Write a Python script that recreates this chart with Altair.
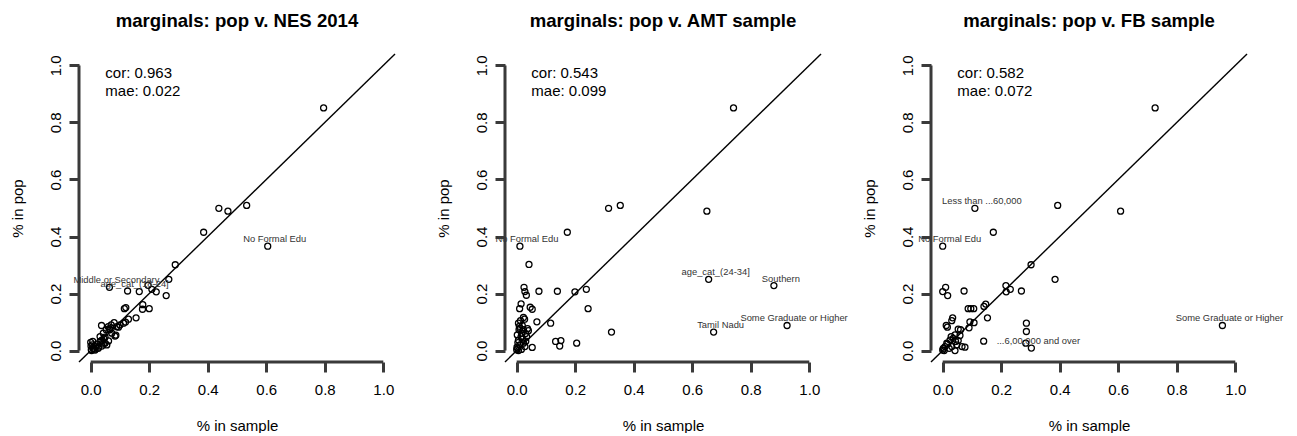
import altair as alt
import pandas as pd

FONT = "Liberation Sans"

TITLES = ["marginals: pop v. NES 2014", "marginals: pop v. AMT sample", "marginals: pop v. FB sample"]
COR = ["0.963", "0.543", "0.582"]
MAE = ["0.022", "0.099", "0.072"]

TICKS = [0.0, 0.2, 0.4, 0.6, 0.8, 1.0]
DOMAIN = [-0.04, 1.04]

# ---- NES 2014 ----
NES_SAMPLE = [0.796, 0.438, 0.469, 0.533, 0.386, 0.605, 0.289, 0.267, 0.064, 0.126,
              0.166, 0.196, 0.209, 0.224, 0.258, 0.115, 0.120, 0.178, 0.177, 0.200,
              0.155, 0.129, 0.119, 0.080, 0.037, 0.086, 0.095, 0.064, 0.053, 0.043,
              0.032, 0.061, 0.049, 0.072, 0.021, 0.007, 0.000, 0.001, 0.009, 0.003,
              0.015, 0.026, 0.038, 0.043, 0.032, 0.055, 0.018, 0.066, 0.060, 0.089,
              0.112, 0.038, 0.049, 0.012, 0.005, 0.027, 0.002, 0.070, 0.045, 0.100,
              0.083]
NES_POP = [0.851, 0.499, 0.489, 0.509, 0.415, 0.366, 0.301, 0.250, 0.222, 0.209,
           0.207, 0.229, 0.215, 0.206, 0.193, 0.147, 0.151, 0.161, 0.145, 0.147,
           0.115, 0.110, 0.100, 0.098, 0.088, 0.054, 0.082, 0.077, 0.073, 0.061,
           0.049, 0.034, 0.047, 0.061, 0.023, 0.032, 0.029, 0.016, 0.008, 0.000,
           0.002, 0.008, 0.016, 0.023, 0.032, 0.020, 0.014, 0.073, 0.084, 0.084,
           0.096, 0.037, 0.026, 0.005, 0.020, 0.012, 0.003, 0.090, 0.042, 0.090,
           0.051]
NES_LABELS = {5: "No Formal Edu", 8: "Middle or Secondary", 9: "age_cat_(18-24]"}

# ---- AMT sample ----
AMT_SAMPLE = [0.741, 0.314, 0.354, 0.650, 0.173, 0.011, 0.042, 0.656, 0.879, 0.924,
              0.673, 0.324, 0.025, 0.028, 0.033, 0.076, 0.139, 0.199, 0.238, 0.244,
              0.015, 0.010, 0.046, 0.053, 0.069, 0.116, 0.133, 0.151, 0.147, 0.205,
              0.053, 0.023, 0.027, 0.006, 0.011, 0.023, 0.037, 0.040, 0.034, 0.017,
              0.006, 0.011, 0.003, 0.023, 0.006, 0.028, 0.015, 0.008, 0.002, 0.004,
              0.001, 0.019, 0.013, 0.009, 0.030, 0.000, 0.016, 0.020, 0.031]
AMT_POP = [0.851, 0.499, 0.509, 0.489, 0.415, 0.366, 0.302, 0.250, 0.228, 0.088,
           0.065, 0.065, 0.222, 0.207, 0.194, 0.208, 0.208, 0.206, 0.215, 0.147,
           0.164, 0.147, 0.152, 0.145, 0.101, 0.096, 0.032, 0.035, 0.016, 0.026,
           0.011, 0.116, 0.110, 0.096, 0.078, 0.073, 0.077, 0.070, 0.049, 0.061,
           0.037, 0.020, 0.008, 0.026, 0.000, 0.014, 0.049, 0.073, 0.055, 0.028,
           0.012, 0.088, 0.105, 0.085, 0.060, 0.003, 0.004, 0.040, 0.033]
AMT_LABELS = {5: "No Formal Edu", 7: "age_cat_(24-34]", 8: "Southern",
              9: "Some Graduate or Higher", 10: "Tamil Nadu"}

# ---- FB sample ----
FB_SAMPLE = [0.726, 0.393, 0.608, 0.110, 0.173, 0.000, 0.302, 0.384, 0.956, 0.303,
             0.010, 0.000, 0.017, 0.073, 0.216, 0.217, 0.231, 0.269, 0.147, 0.141,
             0.087, 0.096, 0.106, 0.153, 0.034, 0.031, 0.093, 0.107, 0.012, 0.016,
             0.090, 0.286, 0.286, 0.284, 0.140, 0.066, 0.076, 0.042, 0.053, 0.061,
             0.059, 0.042, 0.036, 0.025, 0.014, 0.002, 0.000, 0.048, 0.031, 0.053,
             0.022, 0.044, 0.008, 0.017, 0.005, 0.029]
FB_POP = [0.851, 0.509, 0.489, 0.499, 0.415, 0.366, 0.301, 0.250, 0.088, 0.009,
          0.222, 0.207, 0.193, 0.209, 0.228, 0.206, 0.215, 0.209, 0.163, 0.155,
          0.147, 0.147, 0.147, 0.115, 0.115, 0.105, 0.101, 0.098, 0.088, 0.082,
          0.080, 0.096, 0.067, 0.026, 0.033, 0.014, 0.012, 0.000, 0.075, 0.073,
          0.053, 0.055, 0.043, 0.037, 0.026, 0.008, 0.002, 0.020, 0.014, 0.035,
          0.008, 0.032, 0.014, 0.023, 0.000, 0.049]
FB_LABELS = {3: "Less than ...60,000", 5: "No Formal Edu",
             8: "Some Graduate or Higher", 9: "...6,00,000 and over"}

STAT_X = 0.05
STAT_Y = [0.955, 0.894]

W, H = 316, 308
XT, YT = "% in sample", "% in pop"
LINE_KINDS = ["diag", "yaxis", "xaxis"]
AXIS_COLOR = "#3a3a3a"


def panel(title, xs, ys, labels, cor, mae):
    df = pd.DataFrame({
        "x": xs,
        "y": ys,
        "label": [labels.get(i, "") for i in range(len(xs))],
    })
    xscale = alt.Scale(domain=DOMAIN, nice=False, zero=False)
    yscale = alt.Scale(domain=DOMAIN, nice=False, zero=False)
    xaxis = alt.Axis(values=TICKS, format=".1f", domain=False, grid=False,
                     tickSize=10, tickColor=AXIS_COLOR, tickWidth=3,
                     labelFont=FONT, labelFontSize=15, labelColor="black",
                     labelPadding=22, labelBaseline="alphabetic",
                     title=XT, titleFont=FONT, titleFontSize=15,
                     titleFontWeight="normal", titleColor="black",
                     titlePadding=21)
    yaxis = alt.Axis(values=TICKS, format=".1f", domain=False, grid=False,
                     tickSize=10, tickColor=AXIS_COLOR, tickWidth=3,
                     labelFont=FONT, labelFontSize=15, labelColor="black",
                     labelAngle=270, labelAlign="center", labelBaseline="alphabetic",
                     labelPadding=9,
                     title=YT, titleFont=FONT, titleFontSize=15,
                     titleFontWeight="normal", titleColor="black",
                     titlePadding=23)

    pts = alt.Chart(df).mark_point(
        shape="circle", filled=False, color="black", size=36, strokeWidth=1.3, opacity=1
    ).encode(
        x=alt.X("x:Q", scale=xscale, axis=xaxis),
        y=alt.Y("y:Q", scale=yscale, axis=yaxis),
    )

    lines = pd.DataFrame({
        "x0": [DOMAIN[0], DOMAIN[0], TICKS[0]],
        "x1": [DOMAIN[1], DOMAIN[0], TICKS[-1]],
        "y0": [DOMAIN[0], TICKS[0], DOMAIN[0]],
        "y1": [DOMAIN[1], TICKS[-1], DOMAIN[0]],
        "c": LINE_KINDS,
        "w": [1.4, 3.0, 3.0],
    })
    rules = alt.Chart(lines).mark_rule().encode(
        x="x0:Q", x2="x1:Q", y="y0:Q", y2="y1:Q",
        color=alt.Color("c:N", scale=alt.Scale(domain=LINE_KINDS,
                                               range=["#000000", AXIS_COLOR, AXIS_COLOR]),
                        legend=None),
        strokeWidth=alt.StrokeWidth("w:Q", scale=None, legend=None),
    )

    lab = alt.Chart(df).transform_filter("datum.label != ''").mark_text(
        font=FONT, fontSize=9.4, color="#333333", dx=7, dy=-7,
        align="center", baseline="middle"
    ).encode(x="x:Q", y="y:Q", text="label:N")

    stats = pd.DataFrame({"t": [f"cor: {cor}", f"mae: {mae}"], "y": STAT_Y, "x": [STAT_X, STAT_X]})
    st = alt.Chart(stats).mark_text(
        font=FONT, fontSize=15, color="black", align="left", baseline="alphabetic"
    ).encode(x="x:Q", y="y:Q", text="t:N")

    return alt.layer(pts, rules, lab, st).properties(
        width=W, height=H,
        title=alt.TitleParams(text=title, font=FONT, fontSize=18.6, fontWeight="bold",
                              color="black", anchor="middle", offset=23),
    )


p1 = panel(TITLES[0], NES_SAMPLE, NES_POP, NES_LABELS, COR[0], MAE[0])
p2 = panel(TITLES[1], AMT_SAMPLE, AMT_POP, AMT_LABELS, COR[1], MAE[1])
p3 = panel(TITLES[2], FB_SAMPLE, FB_POP, FB_LABELS, COR[2], MAE[2])

chart = alt.hconcat(p1, p2, p3, spacing=110, bounds="flush").properties(
    padding={"left": 9, "top": 11, "right": 0, "bottom": 0},
).configure_view(strokeWidth=0)

chart.save("out.html", embed_options={"renderer": "svg", "actions": False})
